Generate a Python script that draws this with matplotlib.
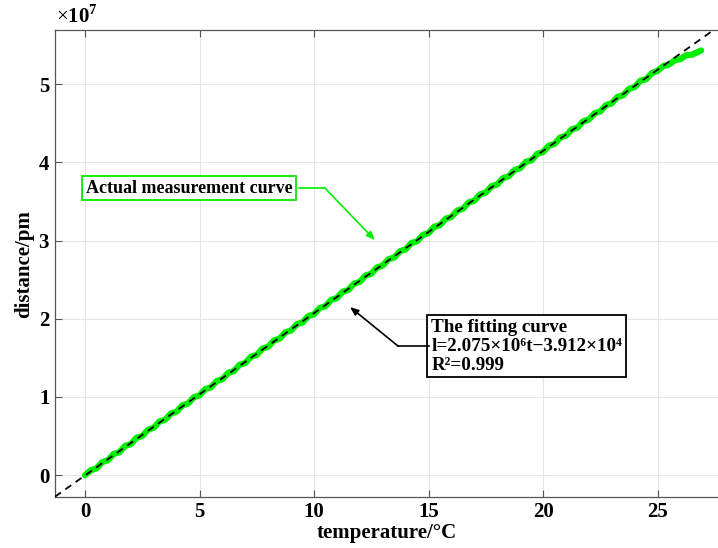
import matplotlib
matplotlib.use("Agg")
import matplotlib.pyplot as plt
import numpy as np
from matplotlib.ticker import ScalarFormatter

plt.rcParams["font.family"] = ["Liberation Serif", "DejaVu Serif"]
plt.rcParams["mathtext.fontset"] = "custom"
plt.rcParams["mathtext.rm"] = "Liberation Serif"
plt.rcParams["mathtext.bf"] = "Liberation Serif:bold"

# measured curve, temperature (°C) and distance (x1e7 pm)
temp = list(np.arange(0, 27.0, 0.25)) + [26.9]
dist = [
    0.000, 0.063, 0.085, 0.167, 0.189, 0.271, 0.292, 0.374, 0.396, 0.478,
    0.500, 0.582, 0.604, 0.686, 0.707, 0.789, 0.811, 0.893, 0.915, 0.997,
    1.019, 1.101, 1.122, 1.204, 1.226, 1.308, 1.330, 1.412, 1.434, 1.516,
    1.537, 1.619, 1.641, 1.723, 1.745, 1.827, 1.849, 1.931, 1.952, 2.034,
    2.056, 2.138, 2.160, 2.242, 2.264, 2.346, 2.367, 2.449, 2.471, 2.553,
    2.575, 2.657, 2.679, 2.761, 2.782, 2.864, 2.886, 2.968, 2.990, 3.072,
    3.094, 3.176, 3.197, 3.279, 3.301, 3.383, 3.405, 3.487, 3.509, 3.591,
    3.612, 3.694, 3.716, 3.798, 3.820, 3.902, 3.924, 4.006, 4.027, 4.109,
    4.131, 4.213, 4.235, 4.317, 4.339, 4.421, 4.442, 4.524, 4.546, 4.628,
    4.650, 4.732, 4.754, 4.836, 4.857, 4.939, 4.961, 5.043, 5.062, 5.140,
    5.170, 5.230, 5.250, 5.305, 5.320, 5.370, 5.375, 5.410, 5.430,
]

# linear fit  l = a*t + b  (pm)
fit_a = 2.075e6
fit_b = -3.912e4

x_ticks = [0, 5, 10, 15, 20, 25]
y_ticks = [0, 1e7, 2e7, 3e7, 4e7, 5e7]
x_lim = (-1.31, 27.64)
y_lim = (-0.28e7, 5.69e7)

fig = plt.figure(figsize=(7.18, 5.48), dpi=100)
ax = fig.add_axes([0.0766, 0.093, 0.9234, 0.852])

ax.grid(True, color="#e6e6e6", linewidth=0.8, zorder=0)
ax.set_axisbelow(True)

t_fit = np.array(x_lim)
ax.plot(temp, np.array(dist) * 1e7, color="#00ee00", linewidth=4.5,
        solid_joinstyle="round", solid_capstyle="round", zorder=3)
ax.plot(t_fit, fit_a * t_fit + fit_b, color="black", linestyle=(0, (4, 3)),
        linewidth=1.3, zorder=4)

ax.set_xlim(*x_lim)
ax.set_ylim(*y_lim)
ax.set_xticks(x_ticks)
ax.set_yticks(y_ticks)
fmt = ScalarFormatter(useMathText=True)
fmt.set_powerlimits((0, 0))
ax.yaxis.set_major_formatter(fmt)
ax.yaxis.get_offset_text().set_visible(False)
ax.text(0.002, 1.004, r"$\times\mathbf{10}^{\mathbf{7}}$", transform=ax.transAxes,
        fontsize=15, ha="left", va="bottom")

for sp in ax.spines.values():
    sp.set_color("#555555")
    sp.set_linewidth(0.9)
ax.spines["right"].set_visible(False)
ax.tick_params(direction="in", length=5, width=0.8, color="#555555",
               labelsize=15, top=True)
for lab in ax.get_xticklabels() + ax.get_yticklabels():
    lab.set_fontweight("bold")

ax.set_xlabel("temperature/°C", fontsize=15, fontweight="bold", labelpad=1)
ax.set_ylabel("distance/pm", fontsize=15, fontweight="bold", labelpad=3)

# annotation: measured curve
ax.text(4.55, 3.67e7, "Actual measurement curve", fontsize=13,
        fontweight="bold", ha="center", va="center",
        bbox=dict(boxstyle="square,pad=0.2", fc="white", ec="#00ee00", lw=1.3),
        zorder=5)
ax.plot([9.35, 10.48], [3.67e7, 3.67e7], color="#00ee00", lw=1.2, zorder=5)
ax.annotate("", xy=(12.66, 3.005e7), xytext=(10.48, 3.67e7),
            arrowprops=dict(arrowstyle="-|>,head_length=0.5,head_width=0.2",
                            color="#00ee00", lw=1.2, shrinkA=0, shrinkB=0),
            zorder=5)

# annotation: fitting curve
ax.text(15.12, 1.65e7,
        "The fitting curve\nl=2.075×10\u2076t\u22123.912×10\u2074\nR\u00b2=0.999",
        fontsize=13.7, fontweight="bold", ha="left", va="center",
        linespacing=1.15,
        bbox=dict(boxstyle="square,pad=0.2", fc="white", ec="black", lw=1.3),
        zorder=5)
ax.plot([13.67, 15.0], [1.65e7, 1.65e7], color="black", lw=1.2, zorder=5)
ax.annotate("", xy=(11.57, 2.15e7), xytext=(13.67, 1.65e7),
            arrowprops=dict(arrowstyle="-|>,head_length=0.5,head_width=0.2",
                            color="black", lw=1.2, shrinkA=0, shrinkB=0),
            zorder=5)

fig.savefig("out.png", dpi=100)
